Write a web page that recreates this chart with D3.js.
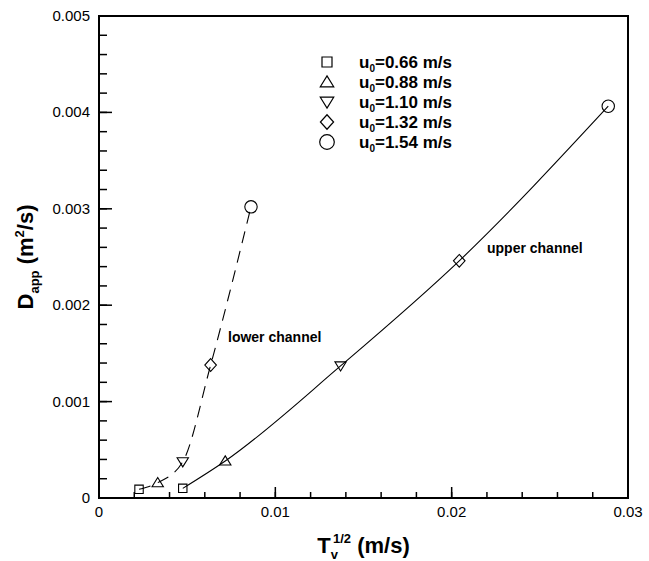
<!DOCTYPE html>
<html>
<head>
<meta charset="utf-8">
<script src="https://cdn.jsdelivr.net/npm/d3@7"></script>
<style>
  body { margin: 0; background: #fff; }
  svg { display: block; font-family: "Liberation Sans", Arial, Helvetica, sans-serif; }
</style>
</head>
<body>
<svg id="chart" width="649" height="561"></svg>
<script>
// series, one point per inlet velocity
var shapes = ["square", "triangle", "triangleDown", "diamond", "circle"];
var legendLabels = ["0.66 m/s", "0.88 m/s", "1.10 m/s", "1.32 m/s", "1.54 m/s"];
var upperX = [0.00475, 0.00716, 0.0137, 0.02043, 0.02888];
var upperY = [0.0001, 0.000384, 0.00137, 0.00246, 0.004064];
var lowerX = [0.00227, 0.00333, 0.00475, 0.00633, 0.00862];
var lowerY = [0.00009, 0.000159, 0.000376, 0.001379, 0.00302];
var xTicks = [0, 0.01, 0.02, 0.03];
var xTickLabels = ["0", "0.01", "0.02", "0.03"];
var yTicks = [0, 0.001, 0.002, 0.003, 0.004, 0.005];
var yTickLabels = ["0", "0.001", "0.002", "0.003", "0.004", "0.005"];

(function () {
    var margin = { left: 99, top: 16, right: 21, bottom: 63 };
    var w = 649 - margin.left - margin.right;
    var h = 561 - margin.top - margin.bottom;
    var x = d3.scaleLinear().domain([0, 0.03]).range([0, w]);
    var y = d3.scaleLinear().domain([0, 0.005]).range([h, 0]);

    var svg = d3.select("#chart");
    var chart = svg.append("g").attr("transform", "translate(" + margin.left + "," + margin.top + ")");

    // marker outlines, r = half size
    function marker(shape, r) {
        if (shape === "square") return "M" + (-r) + "," + (-r) + "H" + r + "V" + r + "H" + (-r) + "Z";
        if (shape === "triangle") return "M0," + (-r * 0.95) + "L" + (r * 1.05) + "," + (r * 0.75) + "H" + (-r * 1.05) + "Z";
        if (shape === "triangleDown") return "M0," + (r * 0.95) + "L" + (r * 1.05) + "," + (-r * 0.75) + "H" + (-r * 1.05) + "Z";
        if (shape === "diamond") return "M0," + (-r * 1.1) + "L" + r + ",0L0," + (r * 1.1) + "L" + (-r) + ",0Z";
        return "M" + r + ",0A" + r + "," + r + " 0 1,1 " + (-r) + ",0A" + r + "," + r + " 0 1,1 " + r + ",0Z";
    }
    var dataSize = { square: 4.2, triangle: 5.4, triangleDown: 5.4, diamond: 5.8, circle: 6.2 };
    var legSize = { square: 5, triangle: 6.4, triangleDown: 6.4, diamond: 6.6, circle: 7.3 };

    // axes: minor + major ticks on bottom and left only
    var xMinor = d3.range(0, 0.0301, 0.002);
    var yMinor = d3.range(0, 0.00501, 0.0002);
    chart.selectAll("line.xminor").data(xMinor).enter().append("line")
        .attr("x1", function (d) { return x(d); }).attr("x2", function (d) { return x(d); })
        .attr("y1", h).attr("y2", h - 6).attr("stroke", "#000").attr("stroke-width", 1.5);
    chart.selectAll("line.xmajor").data(xTicks).enter().append("line")
        .attr("x1", function (d) { return x(d); }).attr("x2", function (d) { return x(d); })
        .attr("y1", h).attr("y2", h - 11).attr("stroke", "#000").attr("stroke-width", 1.5);
    chart.selectAll("line.yminor").data(yMinor).enter().append("line")
        .attr("y1", function (d) { return y(d); }).attr("y2", function (d) { return y(d); })
        .attr("x1", 0).attr("x2", 8).attr("stroke", "#000").attr("stroke-width", 1.5);
    chart.selectAll("line.ymajor").data(yTicks).enter().append("line")
        .attr("y1", function (d) { return y(d); }).attr("y2", function (d) { return y(d); })
        .attr("x1", 0).attr("x2", 13).attr("stroke", "#000").attr("stroke-width", 1.5);

    chart.append("rect").attr("x", 0).attr("y", 0).attr("width", w).attr("height", h)
        .attr("fill", "none").attr("stroke", "#000").attr("stroke-width", 2);

    chart.selectAll("text.xl").data(xTicks).enter().append("text")
        .attr("x", function (d) { return x(d); }).attr("y", h + 19)
        .attr("text-anchor", "middle").style("font-size", "15px")
        .text(function (d, i) { return xTickLabels[i]; });
    chart.selectAll("text.yl").data(yTicks).enter().append("text")
        .attr("x", -9).attr("y", function (d) { return y(d) + 5; })
        .attr("text-anchor", "end").style("font-size", "15px")
        .text(function (d, i) { return yTickLabels[i]; });

    // axis titles
    var xt = svg.append("text").attr("x", margin.left + w / 2).attr("y", 553)
        .attr("text-anchor", "middle").style("font-size", "22px").style("font-weight", "bold");
    xt.append("tspan").text("T");
    xt.append("tspan").attr("dy", 6).style("font-size", "13px").text("v");
    xt.append("tspan").attr("dx", -5).attr("dy", -16).style("font-size", "13px").text("1/2");
    xt.append("tspan").attr("dy", 10).text(" (m/s)");

    var yt = svg.append("text").attr("transform", "translate(33," + (margin.top + h / 2) + ") rotate(-90)")
        .attr("text-anchor", "middle").style("font-size", "22px").style("font-weight", "bold");
    yt.append("tspan").text("D");
    yt.append("tspan").attr("dy", 6).style("font-size", "13px").text("app");
    yt.append("tspan").attr("dy", -6).text(" (m");
    yt.append("tspan").attr("dy", -9).style("font-size", "13px").text("2");
    yt.append("tspan").attr("dy", 9).text("/s)");

    // curves
    var line = d3.line().curve(d3.curveMonotoneX)
        .x(function (d) { return x(d[0]); }).y(function (d) { return y(d[1]); });
    var upper = upperX.map(function (v, i) { return [v, upperY[i]]; });
    var lower = lowerX.map(function (v, i) { return [v, lowerY[i]]; });
    chart.append("path").datum(upper).attr("d", line).attr("fill", "none")
        .attr("stroke", "#000").attr("stroke-width", 1.1);
    chart.append("path").datum(lower).attr("d", line).attr("fill", "none")
        .attr("stroke", "#000").attr("stroke-width", 1.1).attr("stroke-dasharray", "12,8");

    [upper, lower].forEach(function (s) {
        chart.selectAll(null).data(s).enter().append("path")
            .attr("transform", function (d) { return "translate(" + x(d[0]) + "," + y(d[1]) + ")"; })
            .attr("d", function (d, i) { return marker(shapes[i], dataSize[shapes[i]]); })
            .attr("fill", "none").attr("stroke", "#000").attr("stroke-width", 1.1);
    });

    chart.append("text").attr("x", 129).attr("y", 326).style("font-size", "14px").style("font-weight", "bold").text("lower channel");
    chart.append("text").attr("x", 388).attr("y", 237).style("font-size", "14px").style("font-weight", "bold").text("upper channel");

    // legend
    var leg = svg.selectAll("g.leg").data(shapes).enter().append("g")
        .attr("transform", function (d, i) { return "translate(327," + (62 + i * 20) + ")"; });
    leg.append("path").attr("d", function (d) { return marker(d, legSize[d]); })
        .attr("fill", "none").attr("stroke", "#000").attr("stroke-width", 1.2);
    var lt = leg.append("text").attr("x", 32).attr("y", 6)
        .style("font-size", "17px").style("font-weight", "bold");
    lt.append("tspan").text("u");
    lt.append("tspan").attr("dy", 4).style("font-size", "10px").text("0");
    lt.append("tspan").attr("dy", -4).text(function (d, i) { return "=" + legendLabels[i]; });
})();
</script>
</body>
</html>
